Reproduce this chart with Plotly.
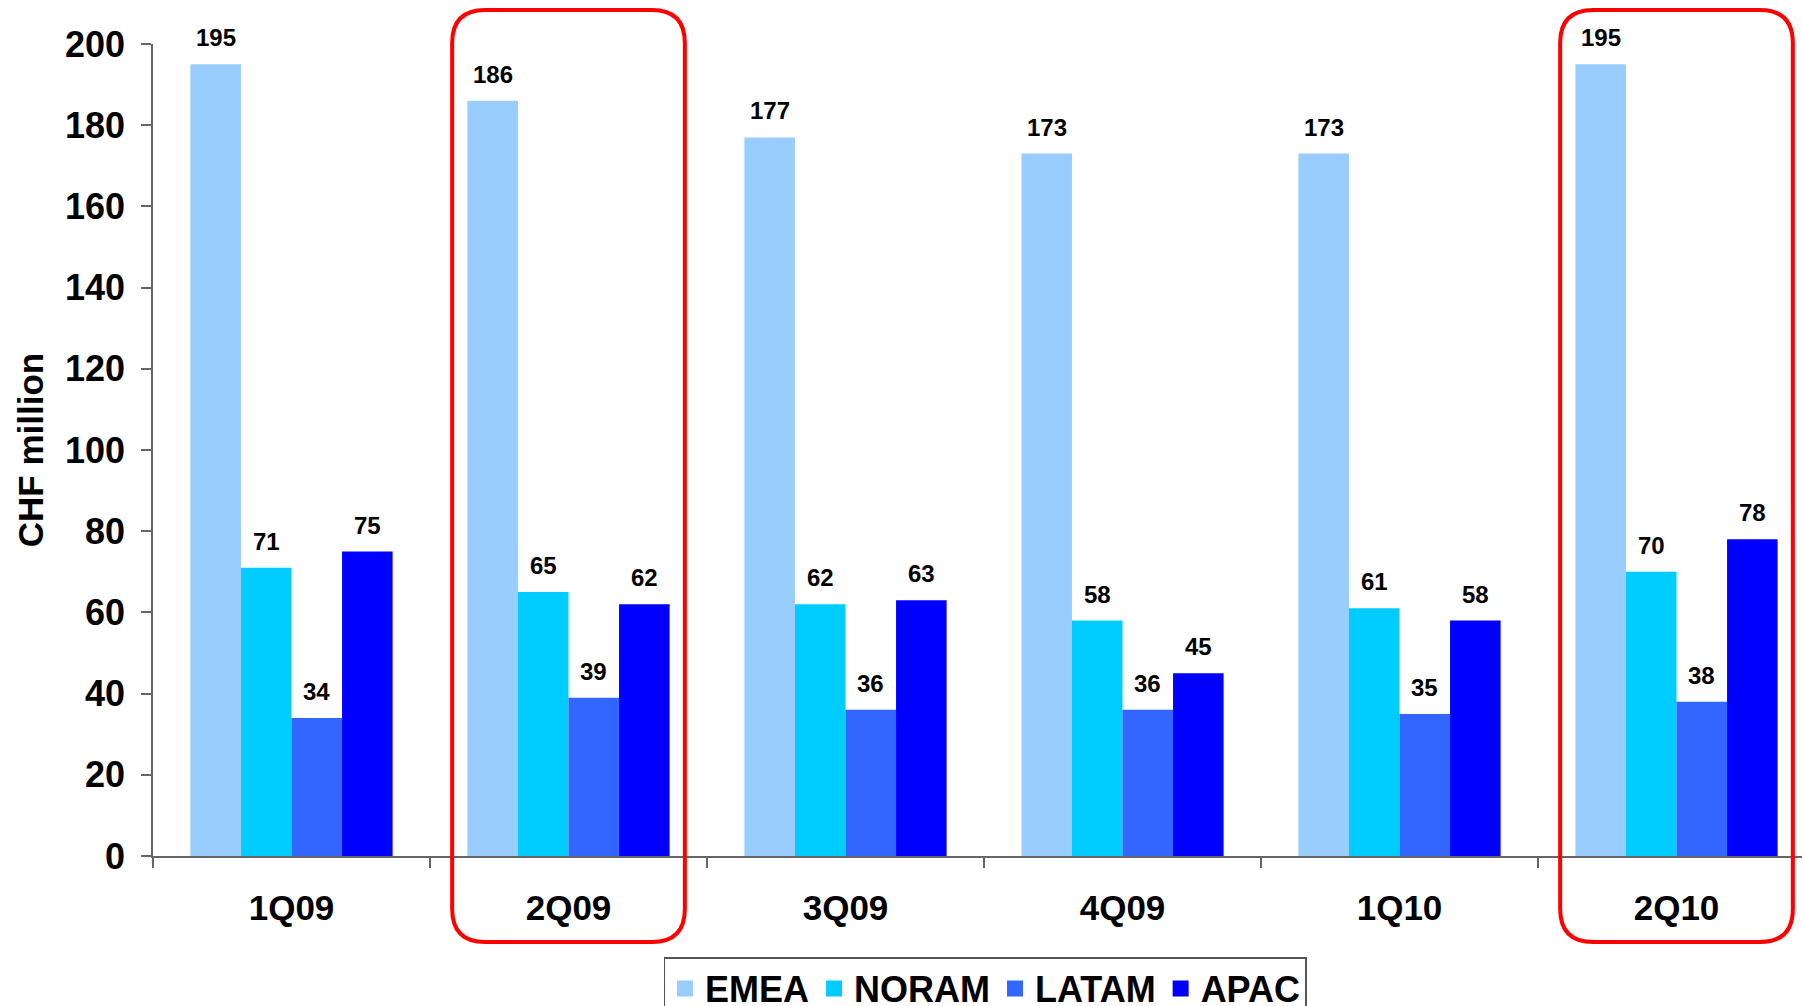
import plotly.graph_objects as go

# Quarterly revenue by region, CHF million
quarters = ["1Q09", "2Q09", "3Q09", "4Q09", "1Q10", "2Q10"]
emea = [195, 186, 177, 173, 173, 195]
noram = [71, 65, 62, 58, 61, 70]
latam = [34, 39, 36, 36, 35, 38]
apac = [75, 62, 63, 45, 58, 78]
highlighted = ["2Q09", "2Q10"]
y_ticks = [0, 20, 40, 60, 80, 100, 120, 140, 160, 180, 200]

series = [
    ("EMEA", emea, "#99CCFF"),
    ("NORAM", noram, "#00CCFF"),
    ("LATAM", latam, "#3366FF"),
    ("APAC", apac, "#0000FF"),
]

W, H = 1802, 1006
ML, MR, MT, MB = 153, 0, 44, 150
plot_w = W - ML - MR
plot_h = H - MT - MB
cat_px = 277.0                      # pixel width of one category slot
bargap = 0.27
bar_w = (1 - bargap) / len(series)  # bar width in category units

BOLD = "Arial, 'Liberation Sans', sans-serif"

fig = go.Figure()
for name, vals, color in series:
    fig.add_trace(go.Bar(
        name=name, x=quarters, y=vals, legendgroup=name, showlegend=False,
        marker=dict(color=color, line=dict(width=0)),
    ))
# legend entries with larger square swatches
for name, vals, color in series:
    fig.add_trace(go.Scatter(
        name=name, x=[None], y=[None], mode="markers", legendgroup=name,
        marker=dict(symbol="square", size=16, color=color, line=dict(width=0)),
    ))

# value labels above each bar
annotations = []
for k, (name, vals, color) in enumerate(series):
    off = (k - (len(series) - 1) / 2) * bar_w
    for i, v in enumerate(vals):
        annotations.append(dict(
            x=i + off, y=v, xref="x", yref="y",
            text=str(v), showarrow=False,
            yanchor="bottom", xanchor="center", yshift=11,
            font=dict(family=BOLD, size=24, color="#000000", weight="bold"),
        ))

# rounded red frames around highlighted quarters
shapes = []
rx = 33 / cat_px
ry = 33 / plot_h
y_top = (plot_h + MT - 10) / plot_h
y_bot = -86 / plot_h
for q in highlighted:
    i = quarters.index(q)
    x0, x1 = i - 0.42, i + 0.42
    y0, y1 = y_bot, y_top
    path = (
        f"M {x0 + rx},{y1} L {x1 - rx},{y1} Q {x1},{y1} {x1},{y1 - ry} "
        f"L {x1},{y0 + ry} Q {x1},{y0} {x1 - rx},{y0} "
        f"L {x0 + rx},{y0} Q {x0},{y0} {x0},{y0 + ry} "
        f"L {x0},{y1 - ry} Q {x0},{y1} {x0 + rx},{y1} Z"
    )
    shapes.append(dict(type="path", path=path, xref="x", yref="paper",
                       line=dict(color="#FF0000", width=4), fillcolor="rgba(0,0,0,0)",
                       layer="above"))

fig.update_layout(
    width=W, height=H,
    margin=dict(l=ML, r=MR, t=MT, b=MB, autoexpand=False),
    paper_bgcolor="white", plot_bgcolor="white",
    barmode="group", bargap=bargap, bargroupgap=0,
    annotations=annotations, shapes=shapes,
    legend=dict(
        orientation="h", x=(985 - ML) / plot_w, xanchor="center",
        y=-101 / plot_h, yanchor="top",
        bordercolor="#555555", borderwidth=1.5, bgcolor="white",
        font=dict(family=BOLD, size=36, color="#000000", weight="bold"),
        traceorder="normal", itemclick=False, itemsizing="trace",
    ),
    xaxis=dict(
        type="category", categoryorder="array", categoryarray=quarters,
        range=[-0.5, -0.5 + plot_w / cat_px],
        showline=True, linecolor="#666666", linewidth=1.5,
        ticks="outside", tickson="boundaries", ticklen=10, tickcolor="#666666", tickwidth=1.5,
        ticklabelstandoff=20,
        tickfont=dict(family=BOLD, size=35, color="#000000", weight="bold"),
        showgrid=False, zeroline=False, automargin=False,
    ),
    yaxis=dict(
        range=[0, 200], tickvals=y_ticks,
        showline=True, linecolor="#666666", linewidth=1.5,
        ticks="outside", ticklen=10, tickcolor="#666666", tickwidth=1.5,
        ticklabelstandoff=9,
        tickfont=dict(family=BOLD, size=36, color="#000000", weight="bold"),
        title=dict(text="CHF million", standoff=11,
                   font=dict(family=BOLD, size=35, color="#000000", weight="bold")),
        showgrid=False, zeroline=False, automargin=False,
    ),
)

fig.write_html("out.html")
